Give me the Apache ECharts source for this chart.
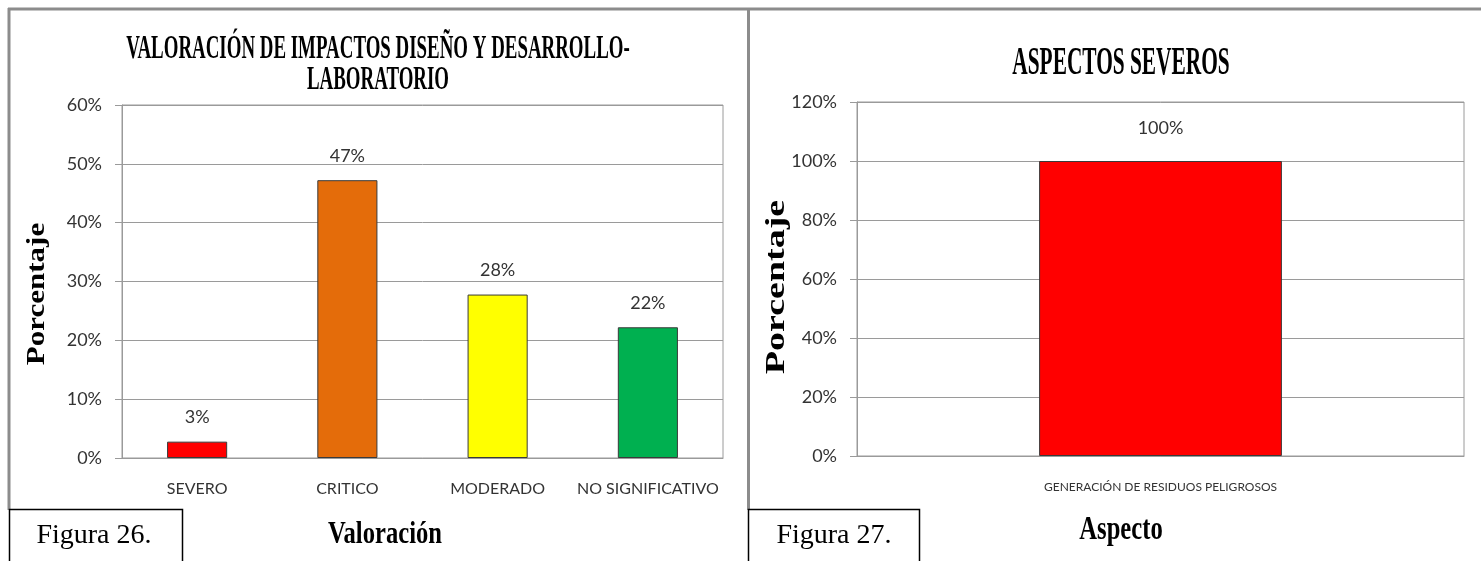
<!DOCTYPE html>
<html>
<head>
<meta charset="utf-8">
<style>
  html, body { margin: 0; padding: 0; background: #fff; }
  #main { width: 1481px; height: 561px; }
</style>
<script src="https://cdn.jsdelivr.net/npm/echarts@6/dist/echarts.min.js"></script>
</head>
<body>
<div id="main"></div>
<script>
// Figura 26
var categories26 = ['SEVERO', 'CRITICO', 'MODERADO', 'NO SIGNIFICATIVO']
var values26 = [2.78, 47.22, 27.78, 22.22]
// Figura 27
var categories27 = ['GENERACIÓN DE RESIDUOS PELIGROSOS']
var values27 = [100]

var tickFont = 'Lato, "Open Sans", sans-serif'
var serif = '"Liberation Serif", "Times New Roman", serif'
var frame = '#8c8c8c'
var gridGrey = '#9a9a9a'
var textGrey = '#333'

// squeezed serif text (the original is horizontally compressed)
function txt(text, x, y, size, sx, sy, rot, weight) {
  return {
    type: 'text',
    x: x,
    y: y,
    rotation: rot || 0,
    scaleX: sx,
    scaleY: sy,
    z: 10,
    style: {
      text: text,
      font: (weight || 'bold') + ' ' + size + 'px ' + serif,
      fill: '#000',
      align: 'center',
      verticalAlign: 'middle',
      textAlign: 'center',
      textVerticalAlign: 'middle'
    }
  }
}

function valueAxis(idx, max, step) {
  return {
    type: 'value',
    gridIndex: idx,
    min: 0,
    max: max,
    interval: step,
    axisLine: { show: true, lineStyle: { color: gridGrey } },
    axisTick: { show: true, length: 7, lineStyle: { color: gridGrey } },
    splitLine: { lineStyle: { color: gridGrey } },
    axisLabel: { formatter: '{value}%', margin: 20, fontFamily: tickFont, fontSize: 18, color: textGrey }
  }
}

function catAxis(idx, data, size, margin) {
  return {
    type: 'category',
    gridIndex: idx,
    data: data,
    axisLine: { lineStyle: { color: gridGrey } },
    axisTick: { length: 7, lineStyle: { color: gridGrey } },
    axisLabel: { margin: margin, fontFamily: tickFont, fontSize: size, color: textGrey, interval: 0 }
  }
}

var colors26 = ['#ff0000', '#e46c0a', '#ffff00', '#00b050']

var myChart = echarts.init(document.getElementById('main'))

var option = {
  backgroundColor: '#fff',
  animation: false,
  grid: [
    { left: 122, top: 105, width: 601, height: 353, show: true, borderColor: gridGrey, borderWidth: 1 },
    { left: 857, top: 102, width: 607, height: 354, show: true, borderColor: gridGrey, borderWidth: 1 }
  ],
  xAxis: [
    catAxis(0, categories26, 16, 23),
    catAxis(1, categories27, 12, 25)
  ],
  yAxis: [
    valueAxis(0, 60, 10),
    valueAxis(1, 120, 20)
  ],
  series: [
    {
      type: 'bar',
      xAxisIndex: 0,
      yAxisIndex: 0,
      barWidth: '40%',
      data: values26.map(function (v, i) {
        return { value: v, itemStyle: { color: colors26[i] } }
      }),
      itemStyle: { borderColor: '#3a3a3a', borderWidth: 1 },
      label: {
        show: true, position: 'top', distance: 15,
        formatter: function (p) { return Math.round(p.value) + '%' },
        fontFamily: tickFont, fontSize: 18, color: textGrey
      }
    },
    {
      type: 'bar',
      xAxisIndex: 1,
      yAxisIndex: 1,
      barWidth: '40%',
      data: values27,
      itemStyle: { color: '#ff0000', borderColor: '#3a3a3a', borderWidth: 1 },
      label: {
        show: true, position: 'top', distance: 24,
        formatter: function (p) { return Math.round(p.value) + '%' },
        fontFamily: tickFont, fontSize: 18, color: textGrey
      }
    }
  ],
  graphic: [
    // panel frames
    { type: 'line', shape: { x1: 8, y1: 9, x2: 1481, y2: 9 }, style: { stroke: frame, lineWidth: 3 } },
    { type: 'line', shape: { x1: 9, y1: 8, x2: 9, y2: 510 }, style: { stroke: frame, lineWidth: 3 } },
    { type: 'line', shape: { x1: 748.5, y1: 8, x2: 748.5, y2: 510 }, style: { stroke: frame, lineWidth: 3 } },
    // caption boxes
    { type: 'rect', shape: { x: 9.5, y: 509.5, width: 173, height: 60 }, style: { fill: '#fff', stroke: '#000', lineWidth: 1.5 } },
    { type: 'rect', shape: { x: 748.5, y: 509.5, width: 171, height: 60 }, style: { fill: '#fff', stroke: '#000', lineWidth: 1.5 } },
    txt('Figura 26.', 94, 536, 28, 1, 1, 0, 'normal'),
    txt('Figura 27.', 834, 536, 28, 1, 1, 0, 'normal'),
    // titles
    txt('VALORACIÓN DE IMPACTOS DISEÑO Y DESARROLLO-', 378, 49, 30, 0.63, 1.12),
    txt('LABORATORIO', 378, 80, 30, 0.63, 1.12),
    txt('ASPECTOS SEVEROS', 1121, 64, 35, 0.61, 1.12),
    // axis names
    txt('Porcentaje', 38, 294, 31, 1, 0.8, Math.PI / 2),
    txt('Porcentaje', 777, 287, 38, 1, 0.73, Math.PI / 2),
    txt('Valoración', 385, 535, 30, 0.82, 1.05),
    txt('Aspecto', 1121, 530, 32, 0.77, 1.08)
  ]
}

myChart.setOption(option)
</script>
</body>
</html>
